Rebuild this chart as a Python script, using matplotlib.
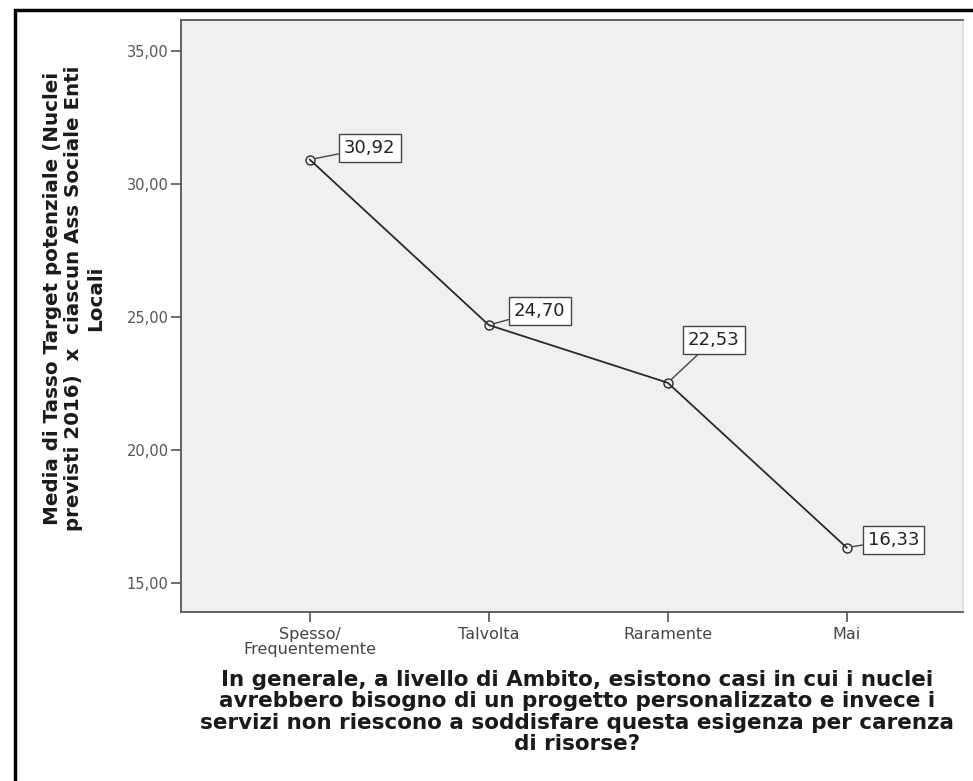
import matplotlib
matplotlib.use('Agg')
import matplotlib.pyplot as plt
from matplotlib.patches import Rectangle

categories = ["Spesso/\nFrequentemente", "Talvolta", "Raramente", "Mai"]
values = [30.92, 24.70, 22.53, 16.33]
value_labels = ["30,92", "24,70", "22,53", "16,33"]
# label offsets from the point, in pixels
label_offsets = [(60, 12), (51, 14), (46, 43), (47, 8)]
y_ticks = [15, 20, 25, 30, 35]

ylabel = "Media di Tasso Target potenziale (Nuclei\nprevisti 2016)  x  ciascun Ass Sociale Enti\nLocali"
xlabel = ("In generale, a livello di Ambito, esistono casi in cui i nuclei\n"
          "avrebbero bisogno di un progetto personalizzato e invece i\n"
          "servizi non riescono a soddisfare questa esigenza per carenza\n"
          "di risorse?")

W, H = 973, 781
fig = plt.figure(figsize=(W / 100, H / 100), dpi=100)
fig.patch.set_facecolor('white')

# outer black frame (only top and left visible)
fig.add_artist(Rectangle((15 / W, -0.1), 2.0, 1 - 10 / H + 0.1, transform=fig.transFigure,
                         fill=False, edgecolor='black', linewidth=2.5))

ax = fig.add_axes([181 / W, 1 - 612 / H, (963 - 181) / W, (612 - 20) / H])
ax.set_facecolor('#f0f0f0')

x = list(range(len(categories)))
ax.plot(x, values, color='#2a2a2a', linewidth=1.3, marker='o', markersize=6.5,
        markerfacecolor='none', markeredgecolor='#2a2a2a', markeredgewidth=1.0)

for xi, v, lab, off in zip(x, values, value_labels, label_offsets):
    ax.annotate(lab, xy=(xi, v), xytext=off, textcoords='offset pixels',
                ha='center', va='center', fontsize=13, color='#222222',
                bbox=dict(boxstyle='square,pad=0.28', facecolor='white', edgecolor='#444444', linewidth=1.0),
                arrowprops=dict(arrowstyle='-', color='#444444', linewidth=1.0, shrinkA=0, shrinkB=4))

ax.set_xlim(-0.72, 3.65)
ax.set_ylim(13.91, 36.17)
ax.set_xticks(x)
ax.set_xticklabels(categories, fontsize=11.5, color='#444444', linespacing=0.95)
ax.set_yticks(y_ticks)
ax.set_yticklabels(["%d,00" % t for t in y_ticks], fontsize=10.5, color='#555555')
ax.tick_params(axis='both', direction='out', length=7, width=1.2, color='#555555')
ax.tick_params(axis='x', pad=4)
ax.tick_params(axis='y', pad=2)
for s in ax.spines.values():
    s.set_color('#555555')
    s.set_linewidth(1.3)
ax.spines['right'].set_color('#dddddd')

fig.text(74 / W, 1 - 298 / H, ylabel, rotation=90, ha='center', va='center',
         multialignment='center', fontsize=14.3, fontweight='bold', color='#1a1a1a', linespacing=1.15)
fig.text(577 / W, 1 - 670 / H, xlabel, ha='center', va='top', multialignment='center',
         fontsize=15.5, fontweight='bold', color='#1a1a1a', linespacing=1.08)

fig.savefig('out.png', dpi=100)
